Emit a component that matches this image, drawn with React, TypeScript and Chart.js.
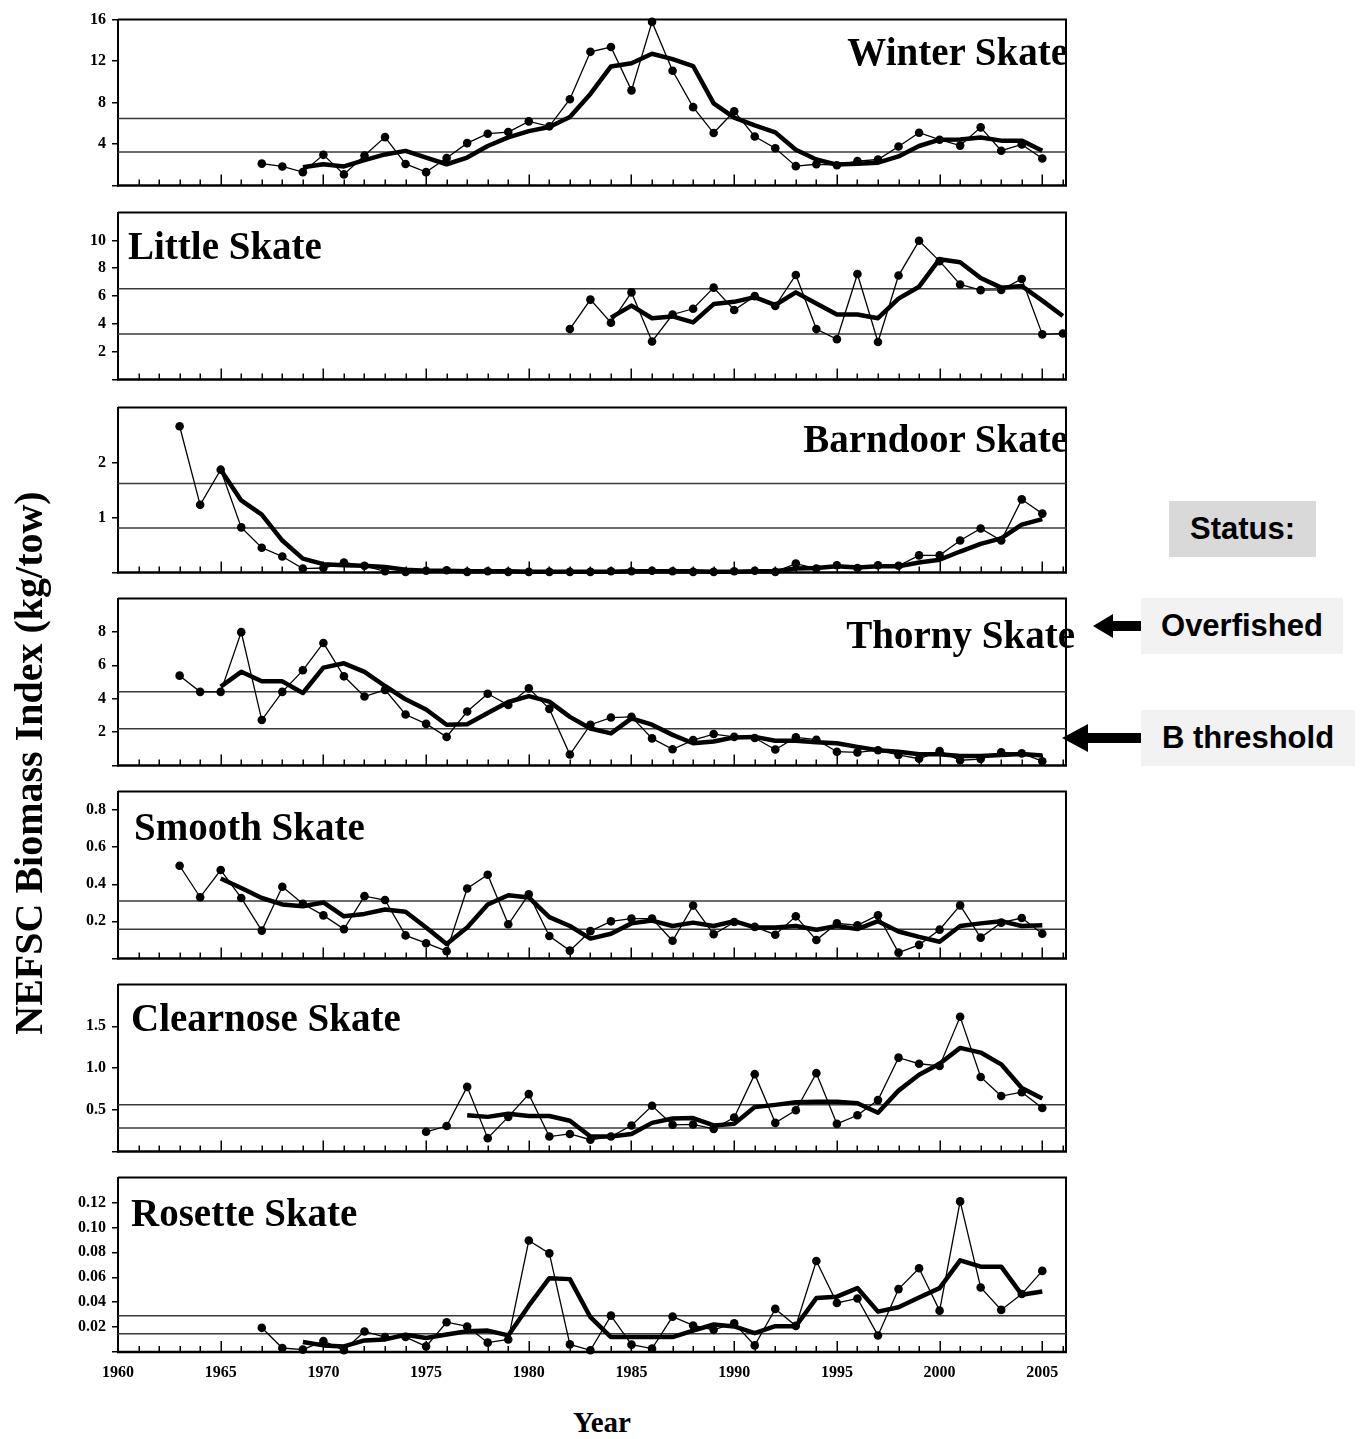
import React, { useEffect, useRef } from 'react';
import { Chart, registerables } from 'chart.js';

Chart.register(...registerables);

const N = null;

// ---------- DATA ----------
const YEARS = [
  1963, 1964, 1965, 1966, 1967, 1968, 1969, 1970, 1971, 1972,
  1973, 1974, 1975, 1976, 1977, 1978, 1979, 1980, 1981, 1982,
  1983, 1984, 1985, 1986, 1987, 1988, 1989, 1990, 1991, 1992,
  1993, 1994, 1995, 1996, 1997, 1998, 1999, 2000, 2001, 2002,
  2003, 2004, 2005, 2006,
];

const X_TICK_LABELS = ['1960', '1965', '1970', '1975', '1980', '1985', '1990', '1995', '2000', '2005'];

const WINTER_ANNUAL = [
  N, N, N, N,
  2.10, 1.83, 1.28, 2.95, 1.06, 2.89, 4.66, 2.07, 1.28, 2.65,
  4.08, 4.99, 5.15, 6.18, 5.70, 8.32, 12.89, 13.35, 9.17, 15.78,
  11.06, 7.55, 5.05, 7.16, 4.72, 3.59, 1.86, 2.04, 1.95, 2.34,
  2.50, 3.75, 5.08, 4.41, 3.84, 5.60, 3.35, 3.96, 2.59,
  N,
];
const WINTER_AVG = [
  N, N, N, N, N, N,
  1.76, 2.04, 1.83, 2.43, 2.99, 3.33, 2.69, 2.04,
  2.69, 3.80, 4.63, 5.24, 5.64, 6.61, 8.83, 11.48, 11.79, 12.70,
  12.19, 11.52, 7.92, 6.55, 5.79, 5.12, 3.44, 2.50, 2.01, 2.10,
  2.19, 2.80, 3.80, 4.41, 4.44, 4.63, 4.32, 4.32, 3.35,
  N,
];
const WINTER_REFS = [6.45, 3.23];
const WINTER_Y_TICKS = ['4', '8', '12', '16'];

const LITTLE_ANNUAL = [
  N, N, N, N, N, N, N, N, N, N, N, N, N, N, N, N, N, N, N,
  3.62, 5.74, 4.08, 6.26, 2.73, 4.67, 5.08, 6.60, 4.99, 5.99,
  5.28, 7.51, 3.62, 2.89, 7.58, 2.69, 7.47, 9.97, 8.51, 6.83,
  6.42, 6.44, 7.22, 3.24, 3.30,
];
const LITTLE_AVG = [
  N, N, N, N, N, N, N, N, N, N, N, N, N, N, N, N, N, N, N, N, N,
  4.44, 5.31, 4.40, 4.53, 4.10, 5.42, 5.58, 5.92, 5.35, 6.26,
  5.46, 4.67, 4.67, 4.40, 5.81, 6.67, 8.65, 8.43, 7.29, 6.60,
  6.72, 5.67, 4.56,
];
const LITTLE_REFS = [6.52, 3.26];
const LITTLE_Y_TICKS = ['2', '4', '6', '8', '10'];

const BARNDOOR_ANNUAL = [
  2.66, 1.23, 1.87, 0.82, 0.45, 0.29, 0.07, 0.08, 0.18, 0.12,
  0.02, 0.01, 0.03, 0.04, 0.01, 0.02, 0.01, 0.01, 0.01, 0.01,
  0.01, 0.02, 0.02, 0.03, 0.02, 0.01, 0.01, 0.02, 0.03, 0.01,
  0.16, 0.07, 0.13, 0.08, 0.13, 0.12, 0.31, 0.31, 0.58, 0.80,
  0.58, 1.33, 1.07,
  N,
];
const BARNDOOR_AVG = [
  N, N,
  1.87, 1.31, 1.05, 0.58, 0.25, 0.15, 0.13, 0.12,
  0.10, 0.05, 0.03, 0.03, 0.02, 0.02, 0.02, 0.01, 0.01, 0.01,
  0.01, 0.01, 0.02, 0.02, 0.02, 0.02, 0.01, 0.01, 0.02, 0.02,
  0.07, 0.08, 0.11, 0.09, 0.11, 0.11, 0.18, 0.23, 0.38, 0.52,
  0.62, 0.87, 0.97,
  N,
];
const BARNDOOR_REFS = [1.62, 0.81];
const BARNDOOR_Y_TICKS = ['1', '2'];

const THORNY_ANNUAL = [
  5.38, 4.41, 4.41, 7.99, 2.72, 4.41, 5.70, 7.34, 5.34, 4.13,
  4.53, 3.05, 2.49, 1.71, 3.23, 4.30, 3.62, 4.62, 3.39, 0.65,
  2.44, 2.87, 2.91, 1.62, 0.97, 1.52, 1.88, 1.71, 1.64, 0.95,
  1.68, 1.54, 0.82, 0.78, 0.91, 0.63, 0.40, 0.86, 0.31, 0.38,
  0.78, 0.72, 0.25,
  N,
];
const THORNY_AVG = [
  N, N,
  4.72, 5.61, 5.04, 5.04, 4.34, 5.86, 6.12, 5.61,
  4.76, 3.96, 3.35, 2.44, 2.47, 3.14, 3.80, 4.15, 3.82, 2.91,
  2.21, 1.92, 2.82, 2.44, 1.83, 1.33, 1.43, 1.68, 1.71, 1.48,
  1.48, 1.39, 1.33, 1.11, 0.91, 0.82, 0.67, 0.67, 0.57, 0.57,
  0.63, 0.69, 0.59,
  N,
];
const THORNY_REFS = [4.41, 2.2];
const THORNY_Y_TICKS = ['2', '4', '6', '8'];

const SMOOTH_ANNUAL = [
  0.50, 0.33, 0.477, 0.326, 0.15, 0.387, 0.295, 0.232, 0.158, 0.336,
  0.315, 0.124, 0.082, 0.039, 0.377, 0.451, 0.184, 0.346, 0.121, 0.042,
  0.147, 0.20, 0.215, 0.215, 0.095, 0.285, 0.13, 0.196, 0.17, 0.128,
  0.227, 0.099, 0.189, 0.179, 0.233, 0.031, 0.073, 0.155, 0.286, 0.112,
  0.193, 0.218, 0.133,
  N,
];
const SMOOTH_AVG = [
  N, N,
  0.431, 0.38, 0.326, 0.291, 0.281, 0.302, 0.227, 0.24,
  0.264, 0.252, 0.167, 0.078, 0.167, 0.291, 0.341, 0.329, 0.223, 0.175,
  0.107, 0.133, 0.189, 0.204, 0.175, 0.193, 0.175, 0.201, 0.167, 0.167,
  0.175, 0.155, 0.175, 0.158, 0.201, 0.145, 0.116, 0.09, 0.175, 0.189,
  0.201, 0.175, 0.179,
  N,
];
const SMOOTH_REFS = [0.31, 0.157];
const SMOOTH_Y_TICKS = ['0.2', '0.4', '0.6', '0.8'];

const CLEARNOSE_ANNUAL = [
  N, N, N, N, N, N, N, N, N, N, N, N,
  0.235, 0.304, 0.774, 0.159, 0.414, 0.687, 0.178, 0.209, 0.14, 0.178,
  0.311, 0.547, 0.319, 0.323, 0.27, 0.406, 0.926, 0.342, 0.493, 0.938,
  0.33, 0.433, 0.615, 1.124, 1.051, 1.025, 1.614, 0.892, 0.664, 0.71, 0.52,
  N,
];
const CLEARNOSE_AVG = [
  N, N, N, N, N, N, N, N, N, N, N, N, N, N,
  0.433, 0.414, 0.452, 0.425, 0.425, 0.368, 0.178, 0.178, 0.209, 0.342,
  0.395, 0.40, 0.311, 0.33, 0.531, 0.558, 0.589, 0.596, 0.596, 0.577,
  0.463, 0.729, 0.919, 1.051, 1.241, 1.185, 1.044, 0.76, 0.634,
  N,
];
const CLEARNOSE_REFS = [0.56, 0.28];
const CLEARNOSE_Y_TICKS = ['0.5', '1.0', '1.5'];

const ROSETTE_ANNUAL = [
  N, N, N, N,
  0.0194, 0.0032, 0.0019, 0.0088, 0.0014, 0.0165, 0.012, 0.012, 0.0045, 0.0239,
  0.0205, 0.0075, 0.0101, 0.0895, 0.0792, 0.0061,
  0.0014, 0.0292, 0.0059, 0.0027, 0.0284, 0.0213, 0.0178, 0.0231, 0.0053, 0.0346,
  0.021, 0.0731, 0.0394, 0.043, 0.0133, 0.0505, 0.0672, 0.0332, 0.1209, 0.0518,
  0.0338, 0.0465, 0.0651,
  N,
];
const ROSETTE_AVG = [
  N, N, N, N, N, N,
  0.008, 0.0053, 0.0045, 0.0093, 0.0101, 0.0139, 0.0112, 0.0141,
  0.0167, 0.0172, 0.0133, 0.0372, 0.0593, 0.0585,
  0.0279, 0.012, 0.012, 0.012, 0.012, 0.0172, 0.0221, 0.0205, 0.0151, 0.0207,
  0.0207, 0.0433, 0.0444, 0.0513, 0.0324, 0.0359, 0.0438, 0.0513, 0.0736, 0.0685,
  0.0685, 0.046, 0.0486,
  N,
];
const ROSETTE_REFS = [0.029, 0.0146];
const ROSETTE_Y_TICKS = ['0.02', '0.04', '0.06', '0.08', '0.10', '0.12'];

const PANELS = [
  { title: 'Winter Skate', annual: WINTER_ANNUAL, avg: WINTER_AVG, refs: WINTER_REFS, yTicks: WINTER_Y_TICKS, yMax: 16 },
  { title: 'Little Skate', annual: LITTLE_ANNUAL, avg: LITTLE_AVG, refs: LITTLE_REFS, yTicks: LITTLE_Y_TICKS, yMax: 12 },
  { title: 'Barndoor Skate', annual: BARNDOOR_ANNUAL, avg: BARNDOOR_AVG, refs: BARNDOOR_REFS, yTicks: BARNDOOR_Y_TICKS, yMax: 3 },
  { title: 'Thorny Skate', annual: THORNY_ANNUAL, avg: THORNY_AVG, refs: THORNY_REFS, yTicks: THORNY_Y_TICKS, yMax: 10 },
  { title: 'Smooth Skate', annual: SMOOTH_ANNUAL, avg: SMOOTH_AVG, refs: SMOOTH_REFS, yTicks: SMOOTH_Y_TICKS, yMax: 0.9 },
  { title: 'Clearnose Skate', annual: CLEARNOSE_ANNUAL, avg: CLEARNOSE_AVG, refs: CLEARNOSE_REFS, yTicks: CLEARNOSE_Y_TICKS, yMax: 2 },
  { title: 'Rosette Skate', annual: ROSETTE_ANNUAL, avg: ROSETTE_AVG, refs: ROSETTE_REFS, yTicks: ROSETTE_Y_TICKS, yMax: 0.14 },
];

// ---------- LAYOUT ----------
const PAGE_W = 1363;
const PAGE_H = 1439;
const X_MIN = 1960;
const PLOT_LEFT = 118;
const PLOT_RIGHT = 1066;
const X_PER_YEAR = 20.54;
const X_MAX = X_MIN + (PLOT_RIGHT - PLOT_LEFT) / X_PER_YEAR;
const CANVAS_W = 1100;
const PAD_TOP = 14;
const PAD_BOTTOM = 8;
const X_AXIS_H = 44;

const PANEL_BOXES = [
  { top: 18, bottom: 193 },
  { top: 211, bottom: 387 },
  { top: 406, bottom: 580 },
  { top: 597, bottom: 773 },
  { top: 790, bottom: 966 },
  { top: 983, bottom: 1159 },
  { top: 1176, bottom: 1352 },
];

const TITLE_POS = [
  { right: 1068, baseline: 65 },
  { left: 128, baseline: 259 },
  { right: 1068, baseline: 452 },
  { right: 1075, baseline: 648 },
  { left: 134, baseline: 840 },
  { left: 131, baseline: 1031 },
  { left: 131, baseline: 1226 },
];

const SERIF = "'Liberation Serif', 'Times New Roman', serif";
const SANS = "'Liberation Sans', Arial, sans-serif";

function toPoints(values: (number | null)[]) {
  return YEARS.map((x, i) => ({ x, y: values[i] })).filter((p) => p.y !== null);
}

const framePlugin = {
  id: 'frame',
  beforeDatasetsDraw(chart: any) {
    const { ctx, chartArea: a, scales } = chart;
    const xs = scales.x;
    ctx.save();
    ctx.strokeStyle = '#000';
    ctx.lineWidth = 1.5;
    for (let yr = X_MIN + 1; yr <= Math.floor(X_MAX); yr++) {
      const px = Math.round(xs.getPixelForValue(yr)) + 0.25;
      const len = yr % 5 === 0 ? 11 : 6;
      ctx.beginPath();
      ctx.moveTo(px, a.bottom);
      ctx.lineTo(px, a.bottom - len);
      ctx.stroke();
    }
    ctx.lineWidth = 2;
    ctx.beginPath();
    ctx.moveTo(a.left, a.top);
    ctx.lineTo(a.right, a.top);
    ctx.lineTo(a.right, a.bottom);
    ctx.stroke();
    ctx.lineWidth = 2.5;
    ctx.beginPath();
    ctx.moveTo(a.left - 1, a.bottom);
    ctx.lineTo(a.right + 1, a.bottom);
    ctx.stroke();
    ctx.restore();
  },
};

function PanelChart({ panel, box, showX }: any) {
  const ref = useRef<HTMLCanvasElement>(null);
  const plotH = box.bottom - box.top;
  const H = PAD_TOP + plotH + (showX ? X_AXIS_H : PAD_BOTTOM);

  useEffect(() => {
    if (!ref.current) return;
    const yVals = [0, ...panel.yTicks.map(Number)];
    const chart = new Chart(ref.current, {
      type: 'line',
      data: {
        datasets: [
          {
            label: panel.title + ' 3-yr average',
            data: toPoints(panel.avg),
            borderColor: '#000',
            borderWidth: 4.5,
            pointRadius: 0,
            borderJoinStyle: 'round',
            order: 1,
            clip: false,
          },
          {
            label: panel.title + ' annual',
            data: toPoints(panel.annual),
            borderColor: '#000',
            borderWidth: 1.3,
            pointRadius: 4.3,
            pointBackgroundColor: '#000',
            pointBorderColor: '#000',
            pointBorderWidth: 0,
            order: 2,
            clip: false,
          },
          ...panel.refs.map((v: number, k: number) => ({
            label: k === 0 ? 'target' : 'threshold',
            data: [
              { x: X_MIN, y: v },
              { x: X_MAX, y: v },
            ],
            borderColor: '#3a3a3a',
            borderWidth: 1.5,
            pointRadius: 0,
            order: 3,
          })),
        ],
      } as any,
      options: {
        responsive: false,
        maintainAspectRatio: false,
        animation: false,
        devicePixelRatio: 1,
        events: [],
        layout: {
          padding: { top: PAD_TOP, left: 0, right: CANVAS_W - PLOT_RIGHT, bottom: showX ? 0 : PAD_BOTTOM },
        },
        plugins: { legend: { display: false }, tooltip: { enabled: false } },
        scales: {
          x: {
            type: 'linear',
            min: X_MIN,
            max: X_MAX,
            afterBuildTicks: (axis: any) => {
              axis.ticks = X_TICK_LABELS.map((s) => ({ value: Number(s) }));
            },
            afterFit: (s: any) => {
              s.height = showX ? X_AXIS_H : 0;
            },
            grid: { display: false, drawTicks: false },
            border: { display: false },
            ticks: {
              display: showX,
              autoSkip: false,
              maxRotation: 0,
              padding: 11,
              color: '#000',
              font: { family: SERIF, weight: 'bold', size: 16 },
              callback: (v: any) => String(v),
            },
          },
          y: {
            type: 'linear',
            min: 0,
            max: panel.yMax,
            afterBuildTicks: (axis: any) => {
              axis.ticks = yVals.map((v) => ({ value: v }));
            },
            afterFit: (s: any) => {
              s.width = PLOT_LEFT;
            },
            grid: { drawOnChartArea: false, drawTicks: true, tickLength: 6, color: '#000', lineWidth: 1.5 },
            border: { display: true, color: '#000', width: 2 },
            ticks: {
              padding: 6,
              color: '#000',
              font: { family: SERIF, weight: 'bold', size: 16 },
              callback: (v: any) => {
                const s = panel.yTicks.find((t: string) => Math.abs(Number(t) - v) < 1e-9);
                return s ?? '';
              },
            },
          },
        },
      } as any,
      plugins: [framePlugin],
    });
    return () => chart.destroy();
  }, []);

  return (
    <canvas
      ref={ref}
      width={CANVAS_W}
      height={H}
      style={{ position: 'absolute', left: 0, top: box.top - PAD_TOP, width: CANVAS_W, height: H }}
    />
  );
}

const TITLE_SIZE = 39;

function SpeciesTitle({ text, pos }: any) {
  const style: any = {
    position: 'absolute',
    top: pos.baseline - TITLE_SIZE * 0.8375,
    fontFamily: SERIF,
    fontWeight: 'bold',
    fontSize: TITLE_SIZE,
    lineHeight: TITLE_SIZE + 'px',
    whiteSpace: 'nowrap',
    color: '#000',
  };
  if (pos.left !== undefined) style.left = pos.left;
  else style.right = PAGE_W - pos.right;
  return <div style={style}>{text}</div>;
}

function StatusBox({ text, x, y, w, h, bg }: any) {
  return (
    <div
      style={{
        position: 'absolute',
        left: x,
        top: y,
        width: w,
        height: h,
        background: bg,
        display: 'flex',
        alignItems: 'center',
        justifyContent: 'center',
        fontFamily: SANS,
        fontWeight: 'bold',
        fontSize: 31,
        color: '#000',
        whiteSpace: 'nowrap',
      }}
    >
      {text}
    </div>
  );
}

export default function App() {
  return (
    <div
      style={{
        position: 'absolute',
        left: 0,
        top: 0,
        width: PAGE_W,
        height: PAGE_H,
        background: '#fff',
        overflow: 'hidden',
      }}
    >
      {PANELS.map((p, i) => (
        <PanelChart key={p.title} panel={p} box={PANEL_BOXES[i]} showX={i === PANELS.length - 1} />
      ))}
      {PANELS.map((p, i) => (
        <SpeciesTitle key={p.title + '-t'} text={p.title} pos={TITLE_POS[i]} />
      ))}

      <div
        style={{
          position: 'absolute',
          left: 29 - 350,
          top: 763 - 20,
          width: 700,
          height: 40,
          lineHeight: '40px',
          textAlign: 'center',
          transform: 'rotate(-90deg)',
          fontFamily: SERIF,
          fontWeight: 'bold',
          fontSize: 40,
          whiteSpace: 'nowrap',
          color: '#000',
        }}
      >
        NEFSC Biomass Index (kg/tow)
      </div>

      <div
        style={{
          position: 'absolute',
          left: 502,
          top: 1432 - 29 * 0.8375,
          width: 200,
          lineHeight: '29px',
          textAlign: 'center',
          fontFamily: SERIF,
          fontWeight: 'bold',
          fontSize: 29,
          color: '#000',
        }}
      >
        Year
      </div>

      <svg width={PAGE_W} height={PAGE_H} style={{ position: 'absolute', left: 0, top: 0 }}>
        <polygon points="1093,626 1113,614 1113,621 1142,621 1142,631 1113,631 1113,638" fill="#000" />
        <polygon points="1062,738 1088,724 1088,733 1142,733 1142,743 1088,743 1088,752" fill="#000" />
      </svg>

      <StatusBox text="Status:" x={1169} y={501} w={147} h={56} bg="#d9d9d9" />
      <StatusBox text="Overfished" x={1141} y={598} w={202} h={56} bg="#f2f2f2" />
      <StatusBox text="B threshold" x={1141} y={710} w={214} h={56} bg="#f2f2f2" />
    </div>
  );
}
